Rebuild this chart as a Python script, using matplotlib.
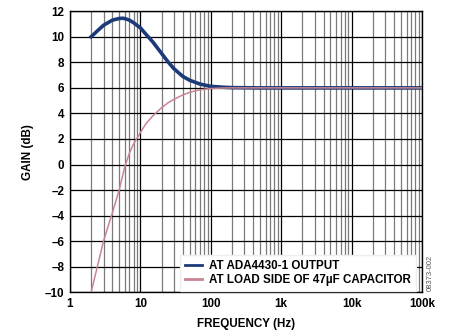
import matplotlib
matplotlib.use("Agg")
import matplotlib.pyplot as plt
from matplotlib.ticker import LogLocator, NullFormatter

plt.rcParams['font.family'] = ['Liberation Sans', 'DejaVu Sans']

# Data
freq_out = [2, 2.5, 3, 4, 5, 5.5, 6, 7, 8, 10, 12, 15, 20, 25, 30, 40, 50, 70, 100, 150, 200, 500, 1000, 100000]
gain_out = [10.0, 10.5, 10.9, 11.3, 11.43, 11.45, 11.43, 11.3, 11.1, 10.7, 10.2, 9.6, 8.7, 8.0, 7.5, 6.9, 6.6, 6.3, 6.12, 6.05, 6.02, 6.0, 6.0, 6.0]

freq_load = [2, 2.5, 3, 3.5, 4, 5, 6, 7, 8, 10, 12, 15, 20, 25, 30, 40, 50, 70, 100, 150, 200, 500, 100000]
gain_load = [-10.0, -7.8, -6.0, -4.8, -3.8, -2.0, -0.2, 0.9, 1.6, 2.5, 3.2, 3.8, 4.45, 4.85, 5.1, 5.45, 5.65, 5.85, 5.95, 5.99, 6.0, 6.0, 6.0]

x_ticks = [1, 10, 100, 1000, 10000, 100000]
x_labels = ["1", "10", "100", "1k", "10k", "100k"]
y_ticks = [-10, -8, -6, -4, -2, 0, 2, 4, 6, 8, 10, 12]
y_labels = ["\u201310", "\u20138", "\u20136", "\u20134", "\u20132", "0", "2", "4", "6", "8", "10", "12"]

label_out = "AT ADA4430-1 OUTPUT"
label_load = "AT LOAD SIDE OF 47\u00b5F CAPACITOR"

FS = 8.4

fig = plt.figure(figsize=(4.51, 3.35), dpi=100)
ax = fig.add_axes([0.155, 0.1275, 0.781, 0.839])

ax.set_xscale('log')
ax.set_xlim(1, 100000)
ax.set_ylim(-10, 12)

ax.set_xticks(x_ticks)
ax.set_xticklabels(x_labels)
ax.xaxis.set_minor_locator(LogLocator(base=10, subs=range(2, 10), numticks=20))
ax.xaxis.set_minor_formatter(NullFormatter())
ax.set_yticks(y_ticks)
ax.set_yticklabels(y_labels)

ax.grid(True, which='major', axis='both', color='black', linewidth=0.9)
ax.grid(True, which='minor', axis='x', color='#7a7a7a', linewidth=0.9)
ax.set_axisbelow(True)

ax.tick_params(which='both', length=0, labelsize=FS, pad=4)
for lab in ax.get_xticklabels() + ax.get_yticklabels():
    lab.set_fontweight('bold')

for s in ax.spines.values():
    s.set_color('black')
    s.set_linewidth(1.0)

ax.plot(freq_out, gain_out, color='#1c3a78', linewidth=2.6, label=label_out, zorder=3)
ax.plot(freq_load, gain_load, color='#c98592', linewidth=1.1, label=label_load, zorder=3)

leg = ax.legend(loc='lower right', bbox_to_anchor=(0.985, 0.0), frameon=True,
                fancybox=False, framealpha=1.0, edgecolor='#eeeeee',
                prop={'weight': 'bold', 'size': FS}, handlelength=1.4,
                handletextpad=0.6, borderpad=0.45, labelspacing=0.15, borderaxespad=0.1)
for l in leg.get_lines():
    l.set_linewidth(2.0)

ax.set_xlabel("FREQUENCY (Hz)", fontsize=FS, fontweight='bold', labelpad=6)
ax.set_ylabel("GAIN (dB)", fontsize=FS, fontweight='bold', labelpad=8)

fig.text(0.954, 0.185, "08373-002", rotation=90, fontsize=5.5, color='#555555',
         ha='center', va='center')

fig.savefig("out.png", dpi=100)
